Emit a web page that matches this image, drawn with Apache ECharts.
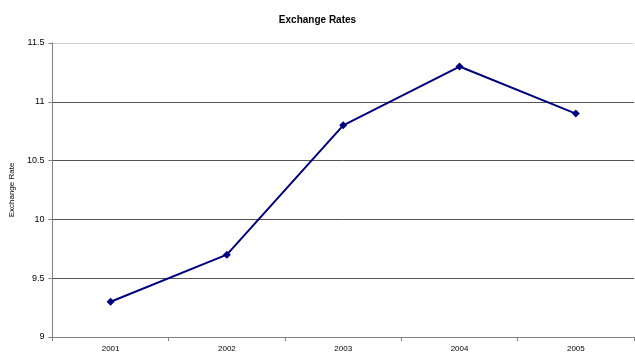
<!DOCTYPE html>
<html><head><meta charset="utf-8">
<script src="https://cdn.jsdelivr.net/npm/echarts@6/dist/echarts.min.js"></script>
<style>html,body{margin:0;padding:0;background:#fff}#c{width:635px;height:357px}</style>
</head><body><div id="c"></div>
<script>
var categories = ['2001','2002','2003','2004','2005'];
var rates = [9.3, 9.7, 10.8, 11.3, 10.9];
var chart = echarts.init(document.getElementById('c'));
chart.setOption({
  animation: false,
  backgroundColor: '#fff',
  title: {text: 'Exchange Rates', left: 'center', top: 10,
    textStyle: {fontFamily: 'Liberation Sans, Arial', fontSize: 10, fontWeight: 'bold', color: '#000'}},
  grid: {left: 52, right: 1, top: 43, bottom: 20},
  xAxis: {type: 'category', data: categories, boundaryGap: true,
    axisLine: {lineStyle: {color: '#808080', width: 1}},
    axisTick: {show: true, length: 4, lineStyle: {color: '#808080'}},
    axisLabel: {fontFamily: 'Liberation Sans, Arial', fontSize: 8, color: '#000', margin: 8}},
  yAxis: {type: 'value', min: 9, max: 11.5, interval: 0.5,
    name: 'Exchange Rate', nameLocation: 'middle', nameGap: 30, nameRotate: 90,
    nameTextStyle: {fontFamily: 'Liberation Sans, Arial', fontSize: 8, color: '#000'},
    axisLine: {show: true, lineStyle: {color: '#808080', width: 1}},
    axisTick: {show: true, length: 4, lineStyle: {color: '#808080'}},
    axisLabel: {fontFamily: 'Liberation Sans, Arial', fontSize: 9, color: '#000', margin: 8,
      formatter: function(v){return String(v);}},
    splitLine: {show: true, lineStyle: {color: ['#555','#555','#555','#555','#555','#d0d0d0'], width: 1}}},
  series: [{type: 'line', data: rates, symbol: 'diamond', symbolSize: 8,
    lineStyle: {color: '#000080', width: 2}, itemStyle: {color: '#000080'}}]
});
</script></body></html>
